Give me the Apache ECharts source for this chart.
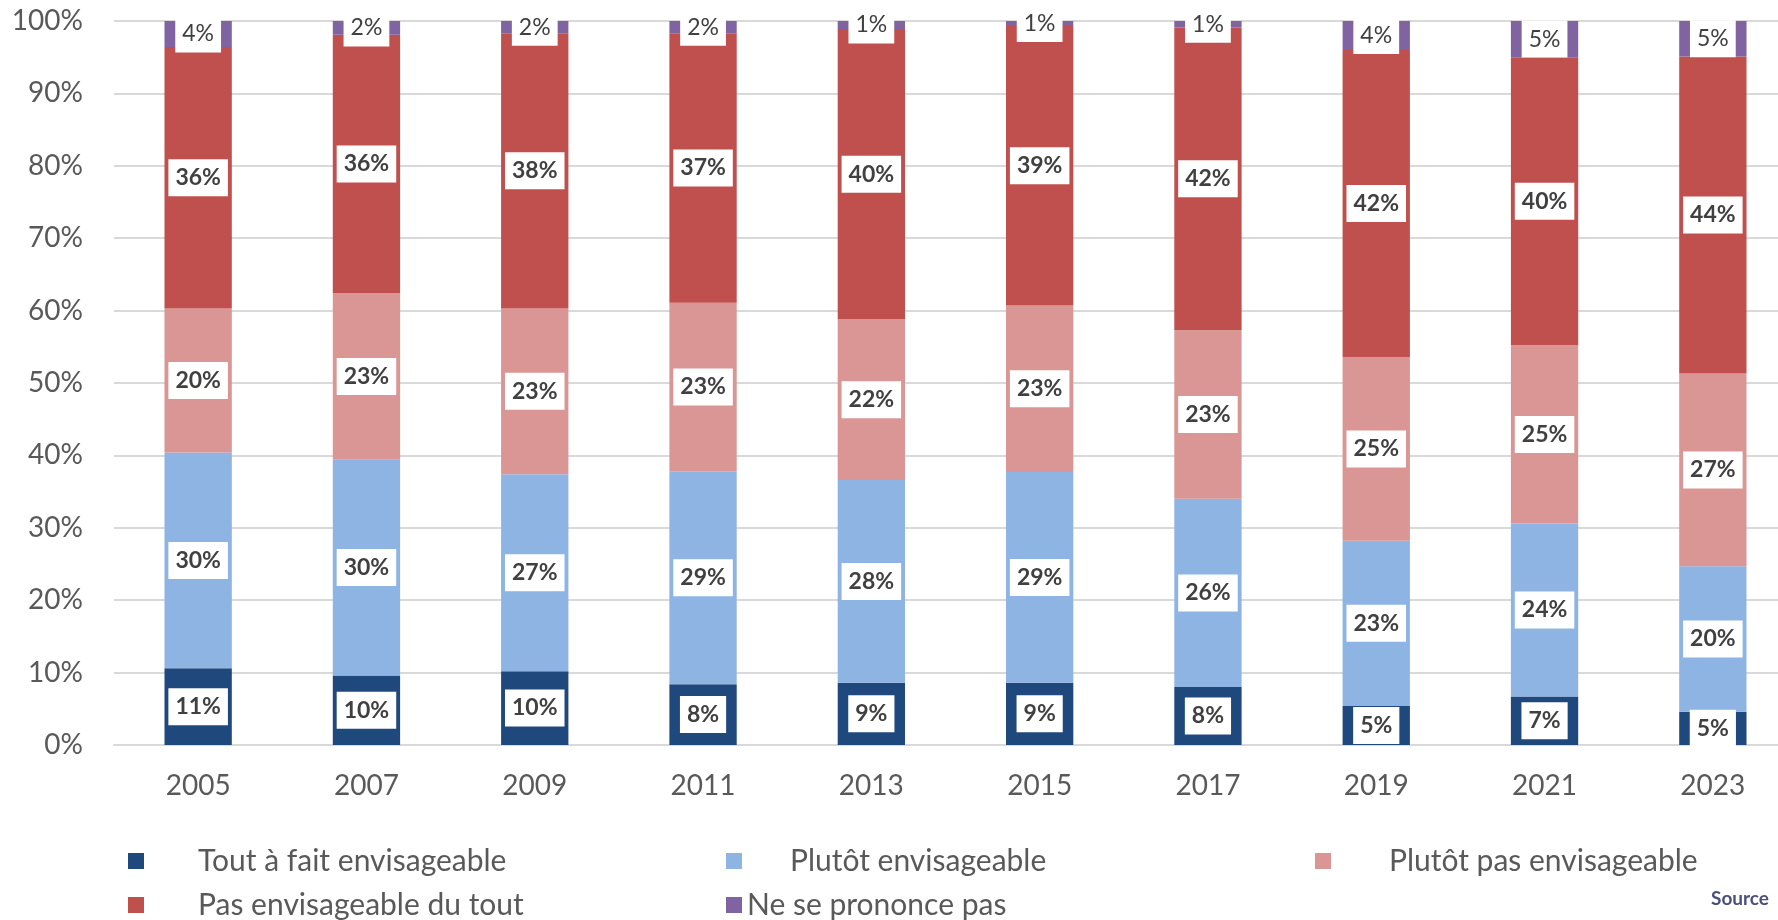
<!DOCTYPE html>
<html>
<head>
    <meta charset="utf-8"/>
    <title>Envisageable ?</title>
    <script src="https://cdn.jsdelivr.net/npm/echarts@6/dist/echarts.min.js"></script>
    <style>
        html, body { margin: 0; padding: 0; background: #fff; }
        #main { width: 1778px; height: 920px; }
    </style>
</head>
<body>
<div id="main"></div>
<script type="text/javascript">
    // années
    var years = ['2005', '2007', '2009', '2011', '2013', '2015', '2017', '2019', '2021', '2023']
    var seriesNames = ['Tout à fait envisageable', 'Plutôt envisageable', 'Plutôt pas envisageable',
        'Pas envisageable du tout', 'Ne se prononce pas']
    // valeurs en %
    var toutAFait = [10.6, 9.6, 10.2, 8.4, 8.6, 8.6, 8.0, 5.4, 6.7, 4.6]
    var plutot = [29.8, 29.8, 27.2, 29.4, 28.0, 29.1, 26.0, 22.8, 23.9, 20.1]
    var plutotPas = [19.9, 23.0, 22.9, 23.3, 22.2, 23.0, 23.3, 25.4, 24.6, 26.6]
    var pasDuTout = [36.1, 35.7, 38.0, 37.2, 40.1, 38.6, 41.8, 42.4, 39.8, 43.8]
    var nsp = [3.6, 1.9, 1.7, 1.7, 1.1, 0.7, 0.9, 4.0, 5.0, 4.9]
    var yTicks = [0, 10, 20, 30, 40, 50, 60, 70, 80, 90, 100]

    var colors = ['#1F497D', '#8EB4E3', '#D99694', '#C0504D', '#8064A2']
    var font = 'Lato, "Open Sans", sans-serif'

    function makeSeries(name, data, color, bold) {
        return {
            name: name,
            type: 'bar',
            stack: 'total',
            barWidth: '40%',
            data: data,
            itemStyle: {color: color},
            label: {
                show: true,
                position: 'inside',
                formatter: function (p) { return Math.round(p.value) + '%' },
                backgroundColor: '#fff',
                padding: [7, 7],
                color: '#404040',
                fontFamily: font,
                fontSize: 23,
                fontWeight: bold ? 'bold' : 'normal'
            }
        }
    }

    function legendItem(name, left, top, gap) {
        return {
            data: [name],
            left: left,
            top: top,
            padding: 0,
            itemWidth: 16,
            itemHeight: 16,
            icon: 'rect',
            selectedMode: false,
            textStyle: {color: '#595959', fontFamily: font, fontSize: 30, padding: [0, 0, 0, gap]}
        }
    }

    var myChart = echarts.init(document.getElementById('main'))
    myChart.setOption({
        animation: false,
        title: {
            text: 'Source',
            right: 4,
            bottom: 7,
            textStyle: {color: '#4B4F7C', fontFamily: font, fontSize: 19, fontWeight: 'bold'}
        },
        // la grille déborde à droite comme dans l'original
        grid: {left: 114, width: 1683, top: 21, bottom: 175, outerBoundsMode: 'none'},
        legend: [
            legendItem(seriesNames[0], 128, 846, 49),
            legendItem(seriesNames[1], 726, 846, 43),
            legendItem(seriesNames[2], 1315, 846, 53),
            legendItem(seriesNames[3], 128, 890, 49),
            legendItem(seriesNames[4], 726, 890, 0)
        ],
        xAxis: {
            type: 'category',
            data: years,
            axisTick: {show: false},
            axisLine: {lineStyle: {color: '#D9D9D9', width: 2}},
            axisLabel: {color: '#595959', fontFamily: font, fontSize: 28, margin: 27}
        },
        yAxis: {
            type: 'value',
            min: yTicks[0],
            max: yTicks[yTicks.length - 1],
            interval: yTicks[1] - yTicks[0],
            axisLine: {show: false},
            axisTick: {show: false},
            splitLine: {lineStyle: {color: '#D9D9D9', width: 2}},
            axisLabel: {color: '#595959', fontFamily: font, fontSize: 28, margin: 31, formatter: '{value}%'}
        },
        series: [
            makeSeries(seriesNames[0], toutAFait, colors[0], true),
            makeSeries(seriesNames[1], plutot, colors[1], true),
            makeSeries(seriesNames[2], plutotPas, colors[2], true),
            makeSeries(seriesNames[3], pasDuTout, colors[3], true),
            makeSeries(seriesNames[4], nsp, colors[4], false)
        ]
    })
</script>
</body>
</html>
